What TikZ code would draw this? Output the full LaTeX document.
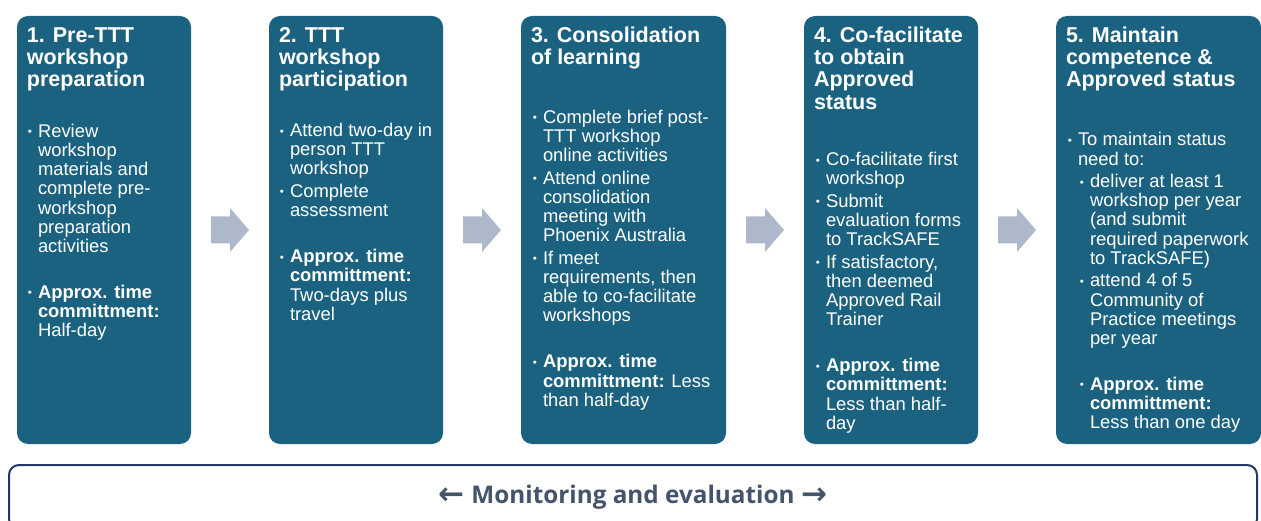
\documentclass[tikz,border=0pt]{standalone}
\usepackage{fontspec}
\setmainfont{Liberation Sans}
\newfontfamily\monfont{Open Sans}
\newfontfamily\symfont{DejaVu Sans}
\usetikzlibrary{calc,positioning}
\definecolor{stepblue}{RGB}{27,98,128}
\definecolor{arrowgray}{RGB}{173,185,202}
\definecolor{monnavy}{RGB}{31,56,100}
\definecolor{montext}{RGB}{68,84,106}
\newcommand{\bul}{\llap{\raisebox{1.5pt}{\fontsize{11.5}{11.5}\selectfont\textbullet}\hspace{6pt}}}
\newcommand{\ind}{\hspace*{12pt}}
\newcommand{\subbul}{\ind\bul}
\newcommand{\approxtime}{\bul\textbf{Approx. time}\\ \textbf{committment:}}
\newcommand{\monarrow}[1]{{\symfont\fontsize{31}{31}\selectfont\raisebox{-1.5pt}{#1}}}
\newcommand{\blockarrow}[2]{\fill[arrowgray, shift={($(#1.east)!.5!(#2.west)$)}] (-19,-13.5) -- (0,-13.5) -- (0,-22) -- (19,0) -- (0,22) -- (0,13.5) -- (-19,13.5) -- cycle;}
\tikzstyle{stepbox}=[fill=stepblue, rounded corners=11pt, minimum height=428pt, inner sep=0]
% base anchor of a multi-line node = baseline of its last line
\tikzstyle{steptitle}=[anchor=base west, align=left, text=white, inner sep=0, font=\bfseries\fontsize{21.5}{22.2}\selectfont]
\tikzstyle{stepbody}=[anchor=base west, align=left, text=white, inner sep=0, font=\fontsize{18.4}{19.2}\selectfont]

\begin{document}
\begin{tikzpicture}[x=1pt,y=-1pt]
\useasboundingbox (0,0) rectangle (1261,521);
\clip (0,0) rectangle (1261,521);

\node[stepbox, minimum width=174pt] (s1) at (104,230) {};
\node[stepbox, minimum width=174pt] (s2) at (356,230) {};
\node[stepbox, minimum width=205pt] (s3) at (623.5,230) {};
\node[stepbox, minimum width=174pt] (s4) at (891,230) {};
\node[stepbox, minimum width=205pt] (s5) at (1158.5,230) {};

\node[steptitle] (t1) at ($(s1.north west)+(10,71.1)$) {1. Pre-TTT\\ workshop\\ preparation};
\node[steptitle] (t2) at ($(s2.north west)+(10,71.1)$) {2. TTT\\ workshop\\ participation};
\node[steptitle] (t3) at ($(s3.north west)+(10,48.9)$) {3. Consolidation\\ of learning};
\node[steptitle] (t4) at ($(s4.north west)+(10,93.3)$) {4. Co-facilitate\\ to obtain\\ Approved\\ status};
\node[steptitle] (t5) at ($(s5.north west)+(10,71.1)$) {5. Maintain\\ competence \&\\ Approved status};

\node[stepbody] (b1) at ($(s1.north west)+(21,321)$) {\bul Review\\ workshop\\ materials and\\ complete pre-\\ workshop\\ preparation\\ activities\\[26.8pt]
\approxtime\\ Half-day};
\node[stepbody] (b2) at ($(s2.north west)+(21,304.5)$) {\bul Attend two-day in\\ person TTT\\ workshop\\[3.3pt]
\bul Complete\\ assessment\\[26.8pt]
\approxtime\\ Two-days plus\\ travel};
\node[stepbody] (b3) at ($(s3.north west)+(22,390.5)$) {\bul Complete brief post-\\ TTT workshop\\ online activities\\[3.3pt]
\bul Attend online\\ consolidation\\ meeting with\\ Phoenix Australia\\[3.3pt]
\bul If meet\\ requirements, then\\ able to co-facilitate\\ workshops\\[26.8pt]
\bul\textbf{Approx. time}\\ \textbf{committment:} Less\\ than half-day};
\node[stepbody] (b4) at ($(s4.north west)+(22,413.5)$) {\bul Co-facilitate first\\ workshop\\[3.3pt]
\bul Submit\\ evaluation forms\\ to TrackSAFE\\[3.3pt]
\bul If satisfactory,\\ then deemed\\ Approved Rail\\ Trainer\\[26.8pt]
\approxtime\\ Less than half-\\ day};
\node[stepbody] (b5) at ($(s5.north west)+(22,413)$) {\bul To maintain status\\ need to:\\[3.3pt]
\subbul deliver at least 1\\ \ind workshop per year\\ \ind (and submit\\ \ind required paperwork\\ \ind to TrackSAFE)\\[3.3pt]
\subbul attend 4 of 5\\ \ind Community of\\ \ind Practice meetings\\ \ind per year\\[26.8pt]
\subbul\textbf{Approx. time}\\ \ind\textbf{committment:}\\ \ind Less than one day};

% arrows between the steps
\blockarrow{s1}{s2}
\blockarrow{s2}{s3}
\blockarrow{s3}{s4}
\blockarrow{s4}{s5}

\node[draw=monnavy, line width=2pt, rounded corners=10pt, minimum width=1248pt, minimum height=64pt, text=montext, font=\bfseries\fontsize{24.3}{26}\selectfont] (mon) at (633,497)
  {\monarrow{←} {\monfont Monitoring and evaluation} \monarrow{→}};
\end{tikzpicture}
\end{document}
